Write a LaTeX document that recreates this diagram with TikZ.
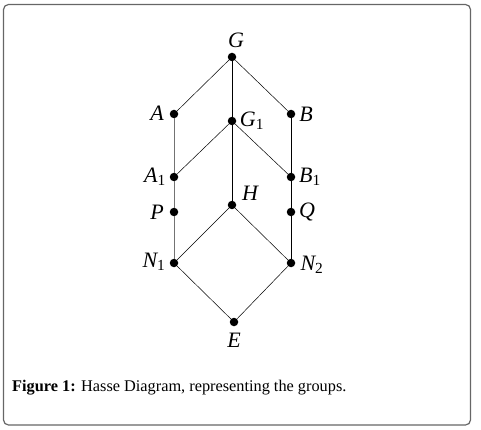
\documentclass[tikz,border=0pt]{standalone}
\usepackage{fontspec}
\setmainfont{Liberation Serif}
\begin{document}
\begin{tikzpicture}[x=1pt,y=-1pt,
  vtx/.style={circle,fill=black,inner sep=0pt,minimum size=8.5pt},
  lab/.style={font=\fontsize{22}{22}\selectfont\itshape,inner sep=1pt},
  edg/.style={line width=0.5pt},
  vedg/.style={line width=0.9pt}]
\useasboundingbox (0,0) rectangle (481,430);
\draw[gray!80!black,line width=1.2pt,rounded corners=5pt] (3.5,4.5) rectangle (470.5,425);
\node[vtx] (G) at (232,57) {};
\node[vtx] (A) at (174,114) {};
\node[vtx] (G1) at (232,121) {};
\node[vtx] (B) at (291,114) {};
\node[vtx] (A1) at (174,177) {};
\node[vtx] (B1) at (291,177) {};
\node[vtx] (P) at (174,212) {};
\node[vtx] (Q) at (291,212) {};
\node[vtx] (H) at (232,205) {};
\node[vtx] (N1) at (174,263) {};
\node[vtx] (N2) at (291,263) {};
\node[vtx] (E) at (234,322) {};
\node[lab] (lG) at (236,40) {G};
\node[lab] (lA) at (157,113) {A};
\node[lab] (lG1) at (252,121) {G\textsubscript{\upshape 1}};
\node[lab] (lB) at (306,114) {B};
\node[lab] (lA1) at (155,177) {A\textsubscript{\upshape 1}};
\node[lab] (lB1) at (310,177) {B\textsubscript{\upshape 1}};
\node[lab] (lP) at (157,212) {P};
\node[lab] (lQ) at (307,212) {Q};
\node[lab] (lH) at (250,193) {H};
\node[lab] (lN1) at (154,262) {N\textsubscript{\upshape 1}};
\node[lab] (lN2) at (312,265) {N\textsubscript{\upshape 2}};
\node[lab] (lE) at (234,340) {E};
\draw[edg] (G) -- (A);
\draw[edg] (G) -- (B);
\draw[vedg] (G) -- (G1);
\draw[vedg] (G1) -- (H);
\draw[edg] (G1) -- (A1);
\draw[edg] (G1) -- (B1);
\draw[vedg,black!55] (A) -- (A1);
\draw[vedg,black!55] (A1) -- (P);
\draw[vedg,black!55] (P) -- (N1);
\draw[vedg] (B) -- (B1);
\draw[vedg] (B1) -- (Q);
\draw[vedg] (Q) -- (N2);
\draw[edg] (H) -- (N1);
\draw[edg] (H) -- (N2);
\draw[edg] (N1) -- (E);
\draw[edg] (N2) -- (E);
\node[anchor=base west,inner sep=0pt,font=\fontsize{16.3}{16.3}\selectfont] (cap) at (12,391) {\textbf{Figure 1:} Hasse Diagram, representing the groups.};
\end{tikzpicture}
\end{document}
